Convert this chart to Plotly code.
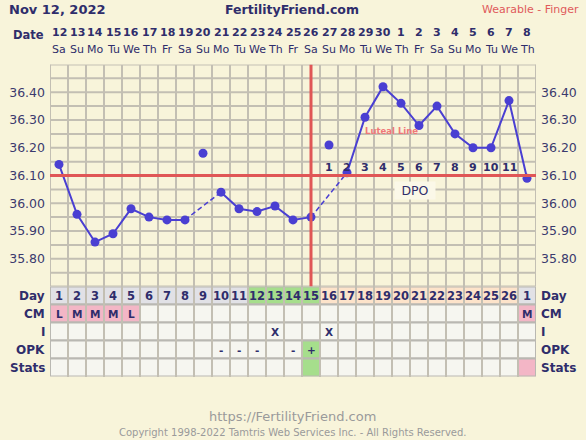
import plotly.graph_objects as go
import numpy as np

# ---------------- data ----------------
dates = ["12", "13", "14", "15", "16", "17", "18", "19", "20", "21", "22", "23", "24", "25",
         "26", "27", "28", "29", "30", "1", "2", "3", "4", "5", "6", "7", "8"]
weekdays = ["Sa", "Su", "Mo", "Tu", "We", "Th", "Fr", "Sa", "Su", "Mo", "Tu", "We", "Th", "Fr",
            "Sa", "Su", "Mo", "Tu", "We", "Th", "Fr", "Sa", "Su", "Mo", "Tu", "We", "Th"]
cycle_days = ["1", "2", "3", "4", "5", "6", "7", "8", "9", "10", "11", "12", "13", "14",
              "15", "16", "17", "18", "19", "20", "21", "22", "23", "24", "25", "26", "1"]
temps = [36.14, 35.96, 35.86, 35.89, 35.98, 35.95, 35.94, 35.94, 36.18, 36.04, 35.98, 35.97,
         35.99, 35.94, 35.95, 36.21, 36.11, 36.31, 36.42, 36.36, 36.28, 36.35, 36.25, 36.20,
         36.20, 36.37, 36.09]
excluded_days = [9, 16]
coverline = 36.10
ovulation_day = 15
luteal_line = 36.30
luteal_start, luteal_end = 18, 27
dpo_labels = ["1", "2", "3", "4", "5", "6", "7", "8", "9", "10", "11"]
dpo_start = 16
fertile_days = [12, 13, 14, 15]
luteal_days = list(range(16, 27))
cm = ["L", "M", "M", "M", "L"] + [""] * 21 + ["M"]
intercourse = [""] * 12 + ["X", "", "", "X"] + [""] * 11
opk = [""] * 9 + ["-", "-", "-", "", "-", "+"] + [""] * 12
stats = [""] * 14 + ["opk+"] + [""] * 11 + ["new"]
y_tick_labels = ["35.80", "35.90", "36.00", "36.10", "36.20", "36.30", "36.40"]
row_labels = ["Day", "CM", "I", "OPK", "Stats"]

# ---------------- style ----------------
BG = "#f8f4da"
GRID = "#c3bfb3"
NAVY = "#2f2d6b"
LINE = "#4a3fd2"
RED = "#e05656"
FONT = "DejaVu Sans"
W, H = 586, 440
L, R = 50, 50
PW = W - L - R


def px_x(px):
    return (px - L) / PW


def px_y(py):
    return 1 - py / H


n = len(temps)
days = list(range(1, n + 1))
TOP, BOT = 64.5, 286.5
TBOT = 376.5

fig = go.Figure()

# solid segments
solid = [None if d in excluded_days else t for d, t in zip(days, temps)]
fig.add_trace(go.Scatter(x=days, y=solid, mode="lines", line=dict(color=LINE, width=2),
                         connectgaps=False, hoverinfo="skip", showlegend=False))
# dashed bridges over excluded days
for d in excluded_days:
    fig.add_trace(go.Scatter(x=[d - 1, d + 1], y=[temps[d - 2], temps[d]], mode="lines",
                             line=dict(color=LINE, width=1.5, dash="5px,3px"),
                             hoverinfo="skip", showlegend=False))
# markers
fig.add_trace(go.Scatter(x=days, y=temps, mode="markers",
                         marker=dict(color=LINE, size=9, line=dict(width=0)),
                         showlegend=False))
# right axis dummy
fig.add_trace(go.Scatter(x=[1], y=[36.0], yaxis="y3", mode="markers",
                         marker=dict(opacity=0), showlegend=False, hoverinfo="skip"))

shapes = []
# coverline
shapes.append(dict(type="line", xref="x", yref="y", x0=0.5, x1=n + 0.5, y0=coverline, y1=coverline,
                   line=dict(color=RED, width=3)))
# ovulation line
shapes.append(dict(type="line", xref="x", yref="y", x0=ovulation_day, x1=ovulation_day,
                   y0=35.70, y1=36.50, line=dict(color=RED, width=3)))
# luteal line
shapes.append(dict(type="line", xref="x", yref="y", x0=luteal_start, x1=luteal_end,
                   y0=luteal_line, y1=luteal_line, line=dict(color="#f07c7c", width=2, dash="4px,3px"),
                   layer="below"))

# table cells
GRAY_CELL = "#e1e1e6"
GREEN = "#a6de8c"
PEACH = "#fde3ca"
PINK = "#f3b6c6"
LIGHT = "#f6f6f0"
for i in range(n):
    d = i + 1
    if d in fertile_days:
        c0 = GREEN
    elif d in luteal_days:
        c0 = PEACH
    else:
        c0 = GRAY_CELL
    colors = [c0,
              PINK if cm[i] else LIGHT,
              LIGHT,
              GREEN if opk[i] == "+" else LIGHT,
              GREEN if stats[i] == "opk+" else (PINK if stats[i] else LIGHT)]
    for r, c in enumerate(colors):
        shapes.append(dict(type="rect", xref="x", yref="y2", x0=d - 0.5, x1=d + 0.5,
                           y0=r - 0.5, y1=r + 0.5, fillcolor=c,
                           line=dict(color="#b9b8b2", width=2), layer="below"))

annotations = []
# title texts
annotations.append(dict(text="<b>Nov 12, 2022</b>", xref="paper", yref="paper", x=px_x(7), y=px_y(10),
                        xanchor="left", yanchor="middle", showarrow=False,
                        font=dict(family=FONT, size=13, color=NAVY)))
annotations.append(dict(text="<b>FertilityFriend.com</b>", xref="paper", yref="paper", x=px_x(292),
                        y=px_y(10), xanchor="center", yanchor="middle", showarrow=False,
                        font=dict(family=FONT, size=12.5, color=NAVY)))
annotations.append(dict(text="Wearable - Finger", xref="paper", yref="paper", x=px_x(581), y=px_y(9),
                        xanchor="right", yanchor="middle", showarrow=False,
                        font=dict(family=FONT, size=11, color="#e05a5a")))
annotations.append(dict(text="<b>Date</b>", xref="paper", yref="paper", x=px_x(46), y=px_y(35),
                        xanchor="right", yanchor="middle", showarrow=False,
                        font=dict(family=FONT, size=11.5, color=NAVY)))
for i in range(n):
    annotations.append(dict(text="<b>" + dates[i] + "</b>", xref="x", yref="paper", x=i + 1, y=px_y(33),
                            xanchor="center", yanchor="middle", showarrow=False,
                            font=dict(family=FONT, size=11, color=NAVY)))
    annotations.append(dict(text=weekdays[i], xref="x", yref="paper", x=i + 1, y=px_y(49.5),
                            xanchor="center", yanchor="middle", showarrow=False,
                            font=dict(family=FONT, size=11, color=NAVY)))
# DPO labels
for k, lab in enumerate(dpo_labels):
    annotations.append(dict(text="<b>" + lab + "</b>", xref="x", yref="y", x=dpo_start + k, y=36.13,
                            xanchor="center", yanchor="middle", showarrow=False,
                            font=dict(family=FONT, size=11, color=NAVY)))
annotations.append(dict(text="DPO", xref="x", yref="y", x=20.75, y=36.047, xanchor="center",
                        yanchor="middle", showarrow=False, bgcolor="#fbf8e8", borderpad=2,
                        width=36, height=13,
                        font=dict(family=FONT, size=12.5, color=NAVY)))
annotations.append(dict(text="<b>Luteal Line</b>", xref="x", yref="y", x=luteal_start - 0.1, y=36.262,
                        xanchor="left", yanchor="middle", showarrow=False,
                        font=dict(family=FONT, size=8.5, color="#f07878")))
# table texts
for i in range(n):
    row_vals = [cycle_days[i], cm[i], intercourse[i], opk[i]]
    for r, v in enumerate(row_vals):
        if v:
            annotations.append(dict(text="<b>" + v + "</b>", xref="x", yref="y2", x=i + 1, y=r,
                                    xanchor="center", yanchor="middle", showarrow=False,
                                    font=dict(family=FONT, size=11.5 if r == 0 else 10.5, color=NAVY)))
for r, lab in enumerate(row_labels):
    annotations.append(dict(text="<b>" + lab + "</b>", xref="paper", yref="y2", x=px_x(47), y=r,
                            xanchor="right", yanchor="middle", showarrow=False,
                            font=dict(family=FONT, size=12, color=NAVY)))
    annotations.append(dict(text="<b>" + lab + "</b>", xref="paper", yref="y2", x=px_x(539), y=r,
                            xanchor="left", yanchor="middle", showarrow=False,
                            font=dict(family=FONT, size=12, color=NAVY)))
# footer
annotations.append(dict(text="https://FertilityFriend.com", xref="paper", yref="paper", x=px_x(292),
                        y=px_y(416), xanchor="center", yanchor="middle", showarrow=False,
                        font=dict(family=FONT, size=13, color="#9a9a9a")))
annotations.append(dict(text="Copyright 1998-2022 Tamtris Web Services Inc. - All Rights Reserved.",
                        xref="paper", yref="paper", x=px_x(293), y=px_y(432), xanchor="center",
                        yanchor="middle", showarrow=False,
                        font=dict(family=FONT, size=10, color="#9a9a9a")))

grid_vals = list(np.round(np.arange(35.70, 36.501, 0.05), 2))
tick_vals = [float(v) for v in y_tick_labels]

fig.update_layout(
    width=W, height=H, autosize=False,
    margin=dict(l=L, r=R, t=0, b=0),
    paper_bgcolor=BG, plot_bgcolor=BG,
    showlegend=False,
    xaxis=dict(range=[0.5, n + 0.5], showticklabels=False, ticks="", tick0=0.5, dtick=1,
               showgrid=True, gridcolor=GRID, gridwidth=2, zeroline=False,
               showline=False, fixedrange=True, anchor="y"),
    yaxis=dict(domain=[px_y(BOT), px_y(TOP)], range=[35.70, 36.50],
               tickmode="array", tickvals=tick_vals, ticktext=y_tick_labels,
               showgrid=False, ticks="", ticklabelstandoff=4,
               tickfont=dict(family=FONT, size=12.5, color="#3b3a6e"),
               zeroline=False, showline=False, fixedrange=True),
    yaxis3=dict(overlaying="y", side="right", range=[35.70, 36.50],
                tickmode="array", tickvals=tick_vals, ticktext=y_tick_labels,
                showgrid=False, ticks="", ticklabelstandoff=4,
                tickfont=dict(family=FONT, size=12.5, color="#3b3a6e"),
                zeroline=False, showline=False, fixedrange=True, anchor="x"),
    yaxis2=dict(domain=[px_y(TBOT), px_y(BOT)], range=[4.5, -0.5], visible=False,
                showgrid=False, zeroline=False, fixedrange=True, anchor="x"),
    shapes=shapes,
    annotations=annotations,
)

# horizontal grid lines in temp area
for g in grid_vals:
    fig.add_shape(type="line", xref="x", yref="y", x0=0.5, x1=n + 0.5, y0=float(g), y1=float(g),
                  line=dict(color=GRID, width=2), layer="below")
# vertical borders of temp area
fig.add_shape(type="line", xref="x", yref="y", x0=0.5, x1=0.5, y0=35.70, y1=36.50,
              line=dict(color=GRID, width=2), layer="below")
fig.add_shape(type="line", xref="x", yref="y", x0=n + 0.5, x1=n + 0.5, y0=35.70, y1=36.50,
              line=dict(color=GRID, width=2), layer="below")

fig.write_html("out.html", config={"displayModeBar": False},
               post_script="document.body.style.margin='0';document.body.style.padding='0';")
